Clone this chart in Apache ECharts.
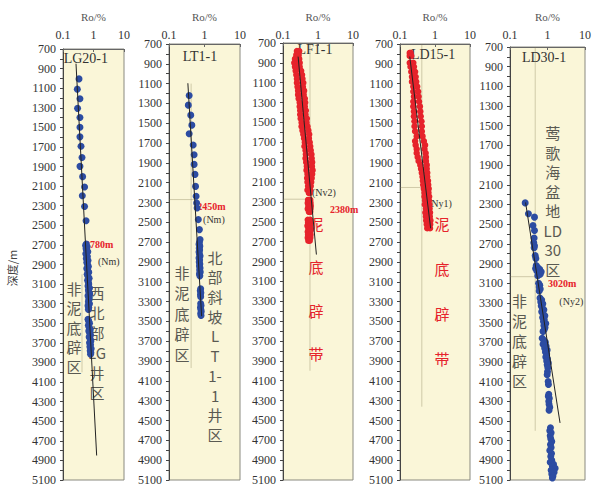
<!DOCTYPE html>
<html><head><meta charset="utf-8">
<script src="https://cdn.jsdelivr.net/npm/echarts/dist/echarts.min.js"></script>
<style>html,body{margin:0;padding:0;background:#fff}#c{width:594px;height:486px}</style>
</head><body><div id="c"></div>
<script>
// ---------- data ----------
const wells = ['LG20-1','LT1-1','LF1-1','LD15-1','LD30-1'];
const roTickLabels = ['0.1','1','10'];
const depthMin = 700, depthMax = 5100, depthLabelStep = 200;

// LG20-1 (blue)
const lg20Depth = [1005,1110,1208,1306,1400,1499,1597,1692,1807,1898,2003,2108,2199,2307,2453,
  2690,2705,2720,2740,2755,2770,2790,2805,2820,2840,2860,2880,2900,2920,2940,2960,2980,3000,3020,3040,3060,3080,3100,3120,3140,3160,3180,3200,3220,3240,3260,3280,3300,3320,3340,3360,
  3460,3480,3500,3520,3540,3560,3580,3600,3620,3640,3660,3680,3700,3720,3740,3760,3780,3800,3815];
const lg20Ro = [0.335,0.295,0.36,0.30,0.36,0.36,0.36,0.39,0.42,0.36,0.44,0.51,0.43,0.51,0.57,
  0.58,0.55,0.62,0.57,0.6,0.65,0.56,0.6,0.63,0.58,0.66,0.6,0.64,0.68,0.6,0.65,0.7,0.62,0.66,0.72,0.64,0.68,0.7,0.66,0.74,0.68,0.7,0.75,0.66,0.72,0.7,0.68,0.74,0.66,0.7,0.68,
  0.66,0.7,0.74,0.68,0.72,0.78,0.7,0.75,0.8,0.72,0.78,0.82,0.74,0.8,0.76,0.84,0.78,0.82,0.8];

// LT1-1 (blue)
const lt1Depth = [1220,1317,1418,1519,1606,1720,1818,1915,2016,2137,2237,2304,2355,2472,2573,2674,
  2700,2720,2740,2760,2780,2800,2820,2840,2860,2880,2900,2920,2940,2960,2980,3000,3020,3040,3170,3190,3210,3230,3250,3320,3340,3360,3380,3400,3420,3440];
const lt1Ro = [0.37,0.35,0.41,0.44,0.37,0.48,0.51,0.51,0.54,0.56,0.58,0.60,0.62,0.67,0.72,0.75,
  0.72,0.7,0.74,0.71,0.73,0.7,0.72,0.75,0.7,0.73,0.71,0.74,0.72,0.75,0.73,0.76,0.72,0.74,0.78,0.76,0.79,0.77,0.78,0.78,0.8,0.77,0.79,0.81,0.78,0.8];

// LF1-1 (red) : band read as left / right edge values per depth
const lf1Depth = [780,820,860,900,940,980,1020,1060,1100,1140,1180,1220,1260,1300,1340,1380,1420,1460,1500,1540,1580,1620,1660,1700,1740,1780,1820,1860,1900,1940,1980,2020,2060,2100,2140,2180,2210,
  2280,2310,2340,2370,2400,2480,2510,2540,2570,2600,2630,2660,2690];
const lf1RoLeft = [0.25,0.24,0.22,0.21,0.22,0.23,0.24,0.25,0.25,0.26,0.27,0.27,0.28,0.3,0.3,0.31,0.31,0.32,0.34,0.34,0.36,0.38,0.4,0.42,0.41,0.44,0.45,0.44,0.46,0.48,0.47,0.5,0.49,0.5,0.52,0.5,0.55,
  0.52,0.51,0.53,0.51,0.55,0.51,0.52,0.5,0.53,0.51,0.52,0.51,0.53];
const lf1RoRight = [0.29,0.28,0.29,0.3,0.3,0.33,0.35,0.36,0.38,0.37,0.4,0.39,0.42,0.43,0.42,0.45,0.44,0.48,0.47,0.5,0.53,0.56,0.55,0.58,0.6,0.62,0.65,0.66,0.68,0.67,0.7,0.68,0.66,0.64,0.62,0.6,0.58,
  0.6,0.61,0.62,0.61,0.6,0.6,0.61,0.6,0.62,0.6,0.61,0.6,0.58];

// LD15-1 (red)
const ld15Depth = [790,820,890,930,980,1030,1080,1130,1180,1230,1280,1330,1380,1430,1480,1530,1580,1630,1680,1720,1760,1800,1840,1880,1920,1960,2000,2040,2080,2120,2160,2200,2240,2280,2320,2360,2400,2440,2480,2520,2560];
const ld15RoLeft = [0.19,0.19,0.19,0.2,0.21,0.22,0.22,0.24,0.24,0.25,0.24,0.24,0.25,0.25,0.26,0.26,0.27,0.3,0.27,0.28,0.3,0.3,0.32,0.34,0.38,0.4,0.42,0.44,0.45,0.46,0.48,0.5,0.5,0.52,0.51,0.55,0.53,0.55,0.56,0.58,0.6];
const ld15RoRight = [0.2,0.21,0.24,0.25,0.27,0.28,0.29,0.31,0.33,0.34,0.35,0.37,0.38,0.39,0.41,0.42,0.42,0.44,0.48,0.52,0.5,0.54,0.55,0.55,0.58,0.58,0.6,0.6,0.63,0.64,0.66,0.65,0.68,0.67,0.69,0.7,0.72,0.71,0.74,0.73,0.72];

// LD30-1 (blue)
const ld30Depth = [2284,2395,2429,2513,2564,2640,2690,2720,2740,2820,2850,2920,2940,2950,2960,2975,2985,3000,3010,3025,3100,3120,3140,3160,3180,3250,3270,3290,3310,3330,3350,3370,3390,3410,3430,3450,3470,3490,3510,3530,3550,3570,3590,3660,3680,3700,3720,3740,3760,3780,3800,3820,3850,3870,3890,3910,3930,3960,4000,4030,4100,4130,4230,4250,4270,4300,4330,4360,4390,4570,4600,4620,4650,4680,4710,4740,4770,4800,4830,4860,4900,4920,4940,4960,4980,5000,5020,5040,5060,5080];
const ld30Ro = [0.254,0.31,0.45,0.41,0.45,0.44,0.43,0.45,0.44,0.47,0.49,0.5,0.55,0.48,0.62,0.52,0.68,0.58,0.64,0.55,0.58,0.62,0.6,0.64,0.6,0.63,0.7,0.66,0.75,0.68,0.72,0.8,0.7,0.76,0.85,0.74,0.82,0.78,0.9,0.8,0.86,0.82,0.76,0.72,0.8,0.88,0.76,0.92,0.84,0.98,0.88,0.95,0.9,1.0,0.95,1.05,0.98,1.02,1.0,0.98,1.04,1.06,1.08,1.05,1.12,1.08,1.1,1.15,1.1,1.2,1.15,1.25,1.18,1.22,1.3,1.2,1.25,1.15,1.28,1.22,1.3,1.18,1.45,1.35,1.6,1.25,1.5,1.3,1.4,1.35];

// trend lines (Ro, depth end points)
const trendRo = [[0.267,1.27],[0.34,0.83],[0.27,0.9],[0.19,0.75],[0.26,2.16]];
const trendDepth = [[850,4850],[1096,3446],[837,2830],[827,2560],[2280,4520]];
// faint guide lines: vertical Ro value with depth range, horizontal boundary depth
const guideRo = [0.42,0.42,0.59,0.42,0.47];
const guideDepthRange = [[3000,4000],[1100,3970],[700,4000],[700,4360],[700,4600]];
const boundaryDepth = [null,2270,2273,2148,3034];
const boundaryRoEnd = [null,0.65,0.6,0.5,0.55];

// ---------- layout / style ----------
const grids = [
  {left:63, top:49, width:61, height:432},
  {left:169, top:44, width:71, height:437},
  {left:283, top:43, width:70, height:439},
  {left:400, top:44, width:70, height:438},
  {left:510, top:47, width:79, height:436}
];
const BLUE = '#2c4ca2', RED = '#e6232b', BG = '#faf6d8';
const pointColor = [BLUE, BLUE, RED, RED, BLUE];
const pointSize = [7, 7, 6.5, 6.5, 7];
const serif = 'Liberation Serif';

function zip(d, r) { return d.map((v, i) => [r[i], v]); }
const pointSets = [
  zip(lg20Depth, lg20Ro),
  zip(lt1Depth, lt1Ro),
  zip(lf1Depth, lf1RoLeft).concat(zip(lf1Depth, lf1RoRight)),
  zip(ld15Depth, ld15RoLeft).concat(zip(ld15Depth, ld15RoRight)),
  zip(ld30Depth, ld30Ro)
];

const xAxes = [], yAxes = [], series = [];
grids.forEach((g, i) => {
  xAxes.push({
    type: 'log', logBase: 10, min: 0.1, max: 10, gridIndex: i, position: 'top',
    name: 'Ro/%', nameLocation: 'middle', nameGap: g.top - 22,
    nameTextStyle: {fontFamily: serif, fontSize: 11, color: '#555'},
    axisLine: {show: true, lineStyle: {color: '#666', width: 1}},
    axisTick: {show: true, inside: true, length: 3, lineStyle: {color: '#666'}},
    axisLabel: {margin: g.top - 41, fontFamily: serif, fontSize: 12, color: '#333',
      formatter: v => roTickLabels[Math.round(Math.log10(v)) + 1] || ''},
    splitLine: {show: false}
  });
  yAxes.push({
    type: 'value', inverse: true, min: depthMin, max: depthMax, interval: 100, gridIndex: i,
    axisLine: {show: true, lineStyle: {color: '#444', width: 1}},
    axisTick: {show: true, length: 3, lineStyle: {color: '#444'}},
    axisLabel: {margin: 7, fontFamily: serif, fontSize: 12, color: '#333',
      formatter: v => ((v - depthMin) % depthLabelStep === 0 ? String(v) : '')},
    splitLine: {show: false}
  });
  series.push({type: 'line', xAxisIndex: i, yAxisIndex: i, symbol: 'none', silent: true, z: 1,
    lineStyle: {color: 'rgba(130,120,80,0.35)', width: 1},
    data: [[guideRo[i], guideDepthRange[i][0]], [guideRo[i], guideDepthRange[i][1]]]});
  if (boundaryDepth[i] !== null) {
    series.push({type: 'line', xAxisIndex: i, yAxisIndex: i, symbol: 'none', silent: true, z: 1,
      lineStyle: {color: 'rgba(130,120,80,0.35)', width: 1},
      data: [[0.1, boundaryDepth[i]], [boundaryRoEnd[i], boundaryDepth[i]]]});
  }
  series.push({type: 'scatter', xAxisIndex: i, yAxisIndex: i, z: 2, symbolSize: pointSize[i],
    itemStyle: {color: pointColor[i], opacity: 1}, data: pointSets[i]});
  series.push({type: 'line', xAxisIndex: i, yAxisIndex: i, symbol: 'none', z: 3,
    lineStyle: {color: '#222', width: 1},
    data: [[trendRo[i][0], trendDepth[i][0]], [trendRo[i][1], trendDepth[i][1]]]});
});

const chart = echarts.init(document.getElementById('c'), null, {renderer: 'svg'});
chart.setOption({
  animation: false,
  backgroundColor: '#fff',
  textStyle: {fontFamily: serif},
  grid: grids.map(g => Object.assign({show: true, backgroundColor: BG, borderColor: '#8a8a80', borderWidth: 1}, g)),
  xAxis: xAxes, yAxis: yAxes, series: series
});

// ---------- annotations (placed in data coordinates) ----------
const notes = [
  {g:0, ro:0.105, d:800, t:'LG20-1', s:'title', a:'left'},
  {g:0, ro:0.526, d:2696, t:'2780m', s:'red', a:'left'},
  {g:0, ro:1.4, d:2869, t:'(Nm)', s:'note', a:'left'},
  {g:0, ro:0.23, d:3541, t:'非\n泥\n底\n辟\n区', s:'cn', a:'center', lh:19.5},
  {g:0, ro:1.3, d:3700, t:'西\n北\n部\nLG\n井\n区', s:'cn', a:'center', lh:20},
  {g:1, ro:0.746, d:831, t:'LT1-1', s:'title', a:'center'},
  {g:1, ro:0.62, d:2341, t:'2450m', s:'red', a:'left'},
  {g:1, ro:0.91, d:2472, t:'(Nm)', s:'note', a:'left'},
  {g:1, ro:0.232, d:3419, t:'非\n泥\n底\n辟\n区', s:'cn', a:'center', lh:20.5},
  {g:1, ro:1.98, d:3746, t:'北\n部\n斜\n坡\nL\nT\n1-\n1\n井\n区', s:'cn', a:'center', lh:19.7},
  {g:2, ro:0.82, d:770, t:'LF1-1', s:'title', a:'center'},
  {g:2, ro:0.67, d:2203, t:'(Nv2)', s:'note', a:'left'},
  {g:2, ro:2.2, d:2373, t:'2380m', s:'red', a:'left'},
  {g:2, ro:0.88, d:3170, t:'泥\n底\n辟\n带', s:'cnRed', a:'center', lh:43.5},
  {g:3, ro:0.88, d:810, t:'LD15-1', s:'title', a:'center'},
  {g:3, ro:0.63, d:2308, t:'(Ny1)', s:'note', a:'left'},
  {g:3, ro:1.58, d:3192, t:'泥\n底\n辟\n带', s:'cnRed', a:'center', lh:45},
  {g:4, ro:0.81, d:811, t:'LD30-1', s:'title', a:'center'},
  {g:4, ro:1.38, d:2265, t:'莺\n歌\n海\n盆\n地\nLD\n30\n区', s:'cn', a:'center', lh:19.5},
  {g:4, ro:1.03, d:3100, t:'3020m', s:'red', a:'left'},
  {g:4, ro:2.07, d:3290, t:'(Ny2)', s:'note', a:'left'},
  {g:4, ro:0.179, d:3682, t:'非\n泥\n底\n辟\n区', s:'cn', a:'center', lh:20}
];
const styles = {
  title: {font: '14px "Liberation Serif"', fill: '#333'},
  red: {font: 'bold 10px "Liberation Serif"', fill: RED},
  note: {font: '10px "Liberation Serif"', fill: '#333'},
  cn: {font: '15px "Noto Sans CJK SC"', fill: '#5a5a52'},
  cnRed: {font: '15px "Noto Sans CJK SC"', fill: RED}
};
const graphics = [];
notes.forEach(n => {
  const p = chart.convertToPixel({gridIndex: n.g}, [n.ro, n.d]);
  const lines = n.t.split('\n');
  const lh = n.lh || 0;
  lines.forEach((line, k) => {
    const st = Object.assign({text: line, align: n.a, verticalAlign: 'middle'}, styles[n.s]);
    graphics.push({type: 'text', x: p[0], y: p[1] + (k - (lines.length - 1) / 2) * lh, z: 1, silent: true, style: st});
  });
});
graphics.push({type: 'text', x: 12, y: 268, rotation: Math.PI / 2, z: 1, silent: true,
  style: {text: '深度/m', font: '11px "Noto Sans CJK SC"', fill: '#444', align: 'center', verticalAlign: 'middle'}});
chart.setOption({graphic: {elements: graphics}});
</script></body></html>
